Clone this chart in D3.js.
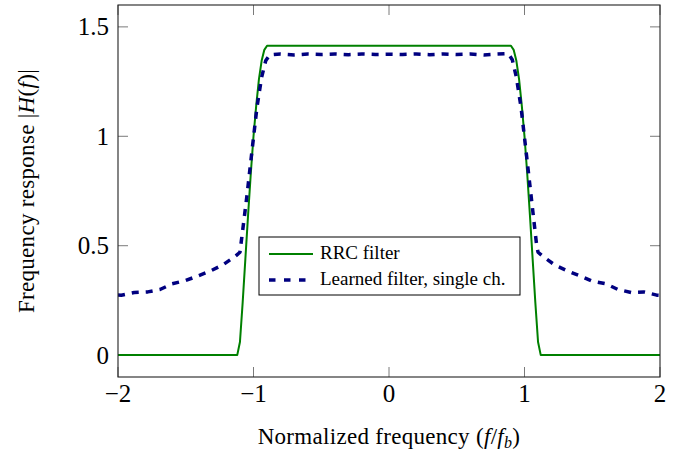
<!DOCTYPE html>
<html>
<head>
<meta charset="utf-8">
<script src="https://cdn.jsdelivr.net/npm/d3@7"></script>
<style>
  html, body { margin: 0; padding: 0; background: #fff; }
  svg { display: block; }
  text { font-family: "Liberation Serif", "DejaVu Serif", serif; fill: #000; }
</style>
</head>
<body>
<svg id="chart" width="688" height="450"></svg>
<script>
// ---- data ----
const xTicks = [-2, -1, 0, 1, 2];
const yTicks = [0, 0.5, 1, 1.5];
const xTickLabels = ["\u22122", "\u22121", "0", "1", "2"];
const yTickLabels = ["0", "0.5", "1", "1.5"];

const rrcFreq = [-2, -1.12, -1.10, -1.08, -1.06, -1.04, -1.02, -1.00, -0.98, -0.96, -0.94, -0.92, -0.90,
                 0.90, 0.92, 0.94, 0.96, 0.98, 1.00, 1.02, 1.04, 1.06, 1.08, 1.10, 1.12, 2];
const rrcValue = [0, 0, 0.06, 0.24, 0.44, 0.64, 0.83, 1.00, 1.14, 1.26, 1.345, 1.395, 1.414,
                  1.414, 1.395, 1.345, 1.26, 1.14, 1.00, 0.83, 0.64, 0.44, 0.24, 0.06, 0, 0];

const learnedFreq = [-2.0, -1.976, -1.88, -1.78, -1.69, -1.60, -1.50, -1.41, -1.32, -1.23, -1.14, -1.10,
                     -1.09, -1.05, -1.01, -0.975, -0.94, -0.91, -0.88, -0.8, -0.7, -0.6, -0.5, -0.4, -0.3,
                     -0.2, -0.1, 0, 0.1, 0.2, 0.3, 0.4, 0.5, 0.6, 0.7, 0.8, 0.88, 0.91, 0.94, 0.975,
                     1.01, 1.05, 1.09, 1.10, 1.14, 1.225, 1.32, 1.41, 1.50, 1.60, 1.69, 1.79, 1.88, 1.976, 2.0];
const learnedValue = [0.275, 0.274, 0.286, 0.289, 0.300, 0.326, 0.341, 0.362, 0.384, 0.411, 0.449, 0.47,
                      0.52, 0.72, 0.94, 1.13, 1.27, 1.345, 1.372, 1.376, 1.372, 1.376, 1.374, 1.376, 1.373,
                      1.376, 1.374, 1.375, 1.374, 1.376, 1.373, 1.376, 1.374, 1.376, 1.372, 1.376, 1.378, 1.35, 1.27, 1.13,
                      0.94, 0.72, 0.50, 0.47, 0.449, 0.411, 0.384, 0.362, 0.338, 0.326, 0.300, 0.286, 0.289, 0.274, 0.273];

const seriesNames = ["RRC filter", "Learned filter, single ch."];

// ---- layout ----
const svg = d3.select("#chart");
const pLeft = 118, pRight = 660, pTop = 5, pBottom = 377;

const x = d3.scaleLinear().domain([-2, 2]).range([pLeft, pRight]);
const y = d3.scaleLinear().domain([-0.1, 1.6]).range([pBottom, pTop]);

svg.append("clipPath").attr("id", "clip")
  .append("rect").attr("x", pLeft).attr("y", pTop).attr("width", pRight - pLeft).attr("height", pBottom - pTop);

// tick marks (inward, all four sides)
const tickLen = 10;
const tg = svg.append("g").attr("stroke", "#7a7a7a").attr("stroke-width", 1);
xTicks.forEach(v => {
  tg.append("line").attr("x1", x(v)).attr("x2", x(v)).attr("y1", pBottom).attr("y2", pBottom - tickLen);
  tg.append("line").attr("x1", x(v)).attr("x2", x(v)).attr("y1", pTop).attr("y2", pTop + tickLen);
});
yTicks.forEach(v => {
  tg.append("line").attr("x1", pLeft).attr("x2", pLeft + tickLen).attr("y1", y(v)).attr("y2", y(v));
  tg.append("line").attr("x1", pRight).attr("x2", pRight - tickLen).attr("y1", y(v)).attr("y2", y(v));
});

// lines
const rrcData = rrcFreq.map((f, i) => [f, rrcValue[i]]);
const learnedData = learnedFreq.map((f, i) => [f, learnedValue[i]]);
const line = d3.line().x(d => x(d[0])).y(d => y(d[1]));

const pg = svg.append("g").attr("clip-path", "url(#clip)");
pg.append("path").datum(rrcData).attr("d", line)
  .attr("fill", "none").attr("stroke", "#008000").attr("stroke-width", 2).attr("stroke-linejoin", "round");
pg.append("path").datum(learnedData).attr("d", line)
  .attr("fill", "none").attr("stroke", "#000080").attr("stroke-width", 3.5)
  .attr("stroke-dasharray", "7,7").attr("stroke-linejoin", "round");

// frame
svg.append("rect").attr("x", pLeft).attr("y", pTop).attr("width", pRight - pLeft).attr("height", pBottom - pTop)
  .attr("fill", "none").attr("stroke", "#222").attr("stroke-width", 1.1);

// tick labels
svg.append("g").selectAll("text").data(xTicks).join("text")
  .attr("x", d => x(d)).attr("y", 402).attr("text-anchor", "middle")
  .style("font-size", "25px").text((d, i) => xTickLabels[i]);
svg.append("g").selectAll("text").data(yTicks).join("text")
  .attr("x", pLeft - 9).attr("y", d => y(d) + 8.5).attr("text-anchor", "end")
  .style("font-size", "25px").text((d, i) => yTickLabels[i]);

// axis labels
const xl = svg.append("text").attr("x", (pLeft + pRight) / 2).attr("y", 444).attr("text-anchor", "middle")
  .style("font-size", "23px").style("letter-spacing", "0.3px");
xl.append("tspan").text("Normalized frequency (");
xl.append("tspan").style("font-style", "italic").text("f");
xl.append("tspan").text("/");
xl.append("tspan").style("font-style", "italic").text("f");
xl.append("tspan").style("font-style", "italic").style("font-size", "16px").attr("dy", 4).text("b");
xl.append("tspan").attr("dy", -4).text(")");

const yl = svg.append("text").attr("transform", `translate(34,${(pTop + pBottom) / 2}) rotate(-90)`)
  .attr("text-anchor", "middle").style("font-size", "23px").style("letter-spacing", "0.3px");
yl.append("tspan").text("Frequency response |");
yl.append("tspan").style("font-style", "italic").text("H");
yl.append("tspan").text("(");
yl.append("tspan").style("font-style", "italic").text("f");
yl.append("tspan").text(")|");

// legend
const lg = svg.append("g");
lg.append("rect").attr("x", 259).attr("y", 237).attr("width", 261).attr("height", 58)
  .attr("fill", "#fff").attr("stroke", "#000").attr("stroke-width", 1);
const legendStyles = [
  {color: "#008000", width: 2, dash: null},
  {color: "#000080", width: 3.5, dash: "6.5,8.5"}
];
seriesNames.forEach((name, i) => {
  const yy = 254 + i * 26;
  const l = lg.append("line").attr("x1", 269).attr("x2", 313).attr("y1", yy).attr("y2", yy)
    .attr("stroke", legendStyles[i].color).attr("stroke-width", legendStyles[i].width);
  if (legendStyles[i].dash) l.attr("stroke-dasharray", legendStyles[i].dash);
  lg.append("text").attr("x", 320).attr("y", yy + 5).style("font-size", "19px").text(name);
});
</script>
</body>
</html>
